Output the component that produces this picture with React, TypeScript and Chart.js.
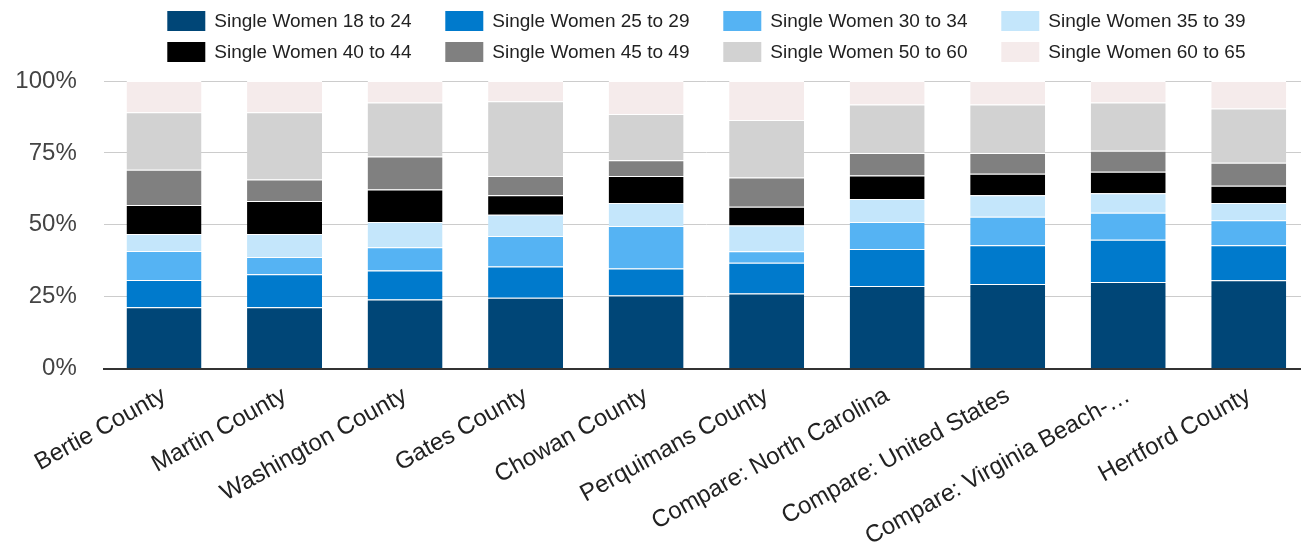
import React, { useEffect, useRef } from "react";
import { Chart, registerables } from "chart.js";

Chart.register(...registerables);

// Categories along the x axis
const categories = [
  "Bertie County",
  "Martin County",
  "Washington County",
  "Gates County",
  "Chowan County",
  "Perquimans County",
  "Compare: North Carolina",
  "Compare: United States",
  "Compare: Virginia Beach-…",
  "Hertford County",
];

// Share of single women by age band (percent of each place)
const women18to24 = [21.3, 21.3, 24.0, 24.6, 25.4, 26.1, 28.7, 29.4, 30.1, 30.7];
const women25to29 = [9.5, 11.5, 10.1, 10.9, 9.4, 10.7, 12.9, 13.5, 14.7, 12.2];
const women30to34 = [10.1, 6.0, 8.1, 10.6, 14.8, 4.0, 9.4, 9.9, 9.4, 8.7];
const women35to39 = [5.9, 8.0, 8.8, 7.4, 8.0, 8.9, 8.0, 7.5, 6.8, 6.0];
const women40to44 = [10.1, 11.5, 11.3, 6.8, 9.4, 6.6, 8.1, 7.4, 7.4, 6.0];
const women45to49 = [12.2, 7.4, 11.4, 6.7, 5.4, 10.1, 7.9, 7.3, 7.3, 8.0];
const women50to60 = [20.0, 23.4, 18.8, 26.0, 16.1, 20.0, 16.8, 16.8, 16.8, 18.8];
const women60to65 = [10.9, 10.9, 7.5, 7.0, 11.5, 13.6, 8.2, 8.2, 7.5, 9.6];

// Y axis tick values
const yTicks = [0, 25, 50, 75, 100];

const seriesNames = [
  "Single Women 18 to 24",
  "Single Women 25 to 29",
  "Single Women 30 to 34",
  "Single Women 35 to 39",
  "Single Women 40 to 44",
  "Single Women 45 to 49",
  "Single Women 50 to 60",
  "Single Women 60 to 65",
];
const seriesValues = [
  women18to24,
  women25to29,
  women30to34,
  women35to39,
  women40to44,
  women45to49,
  women50to60,
  women60to65,
];
const seriesColors = [
  "#004677",
  "#007ACC",
  "#55B3F3",
  "#C4E6FB",
  "#000000",
  "#808080",
  "#D2D2D2",
  "#F5EBEB",
];

const FONT = '"Liberation Sans", Arial, Helvetica, sans-serif';

// Legend laid out as a fixed four-column grid above the plot
const gridLegend = {
  id: "gridLegend",
  afterDraw(chart: any) {
    const { ctx, chartArea } = chart;
    const cols = 4;
    const colW = 278;
    const boxW = 38;
    const boxH = 20;
    const gap = 9;
    const rowH = 31;
    const top = 11;
    ctx.save();
    ctx.font = `19px ${FONT}`;
    ctx.textAlign = "left";
    ctx.textBaseline = "middle";
    const items = chart.data.datasets;
    const textW = Math.max(...items.map((d: any) => ctx.measureText(d.label).width));
    const rowW = (cols - 1) * colW + boxW + gap + textW;
    const x0 = (chartArea.left + chartArea.right) / 2 - rowW / 2;
    items.forEach((ds: any, i: number) => {
      const c = i % cols;
      const r = Math.floor(i / cols);
      const x = x0 + c * colW;
      const y = top + r * rowH;
      ctx.fillStyle = ds.backgroundColor;
      ctx.fillRect(x, y, boxW, boxH);
      ctx.fillStyle = "#222222";
      ctx.fillText(ds.label, x + boxW + gap, y + boxH / 2 + 1);
    });
    ctx.restore();
  },
};

export default function App() {
  const canvasRef = useRef<HTMLCanvasElement | null>(null);

  useEffect(() => {
    document.body.style.margin = "0";
    document.body.style.overflow = "hidden";
    const canvas = canvasRef.current;
    if (!canvas) return;

    const chart = new Chart(canvas, {
      type: "bar",
      data: {
        labels: categories,
        datasets: seriesNames.map((name, i) => ({
          label: name,
          data: seriesValues[i],
          backgroundColor: seriesColors[i],
          borderColor: "#ffffff",
          borderWidth: { top: 1, bottom: 0, left: 0, right: 0 },
          borderSkipped: false,
          categoryPercentage: 1,
          barPercentage: 0.622,
        })),
      },
      options: {
        responsive: false,
        animation: false,
        devicePixelRatio: 1,
        events: [],
        layout: { padding: { top: 81, left: 0, right: 0, bottom: 0 } },
        plugins: {
          legend: { display: false },
          tooltip: { enabled: false },
          title: { display: false },
        },
        scales: {
          x: {
            stacked: true,
            grid: { display: false },
            border: { display: true, color: "#333333", width: 2 },
            ticks: {
              autoSkip: false,
              minRotation: 29,
              maxRotation: 29,
              padding: 5,
              color: "#222222",
              font: { family: FONT, size: 24 },
            },
            afterFit(scale: any) {
              scale.height = 183.5;
            },
          },
          y: {
            stacked: true,
            min: 0,
            max: 100,
            afterBuildTicks(scale: any) {
              scale.ticks = yTicks.map((v) => ({ value: v }));
            },
            grid: {
              color: (c: any) => (c.tick && c.tick.value === 0 ? "rgba(0,0,0,0)" : "#CCCCCC"),
              lineWidth: 1,
              drawTicks: false,
            },
            border: { display: false },
            ticks: {
              padding: 27,
              color: "#444444",
              font: { family: FONT, size: 24 },
              callback: (v: any) => `${v}%`,
            },
            afterFit(scale: any) {
              scale.width = 103.75;
            },
          },
        },
      },
      plugins: [gridLegend],
    });

    return () => chart.destroy();
  }, []);

  return (
    <div style={{ position: "fixed", left: 0, top: 0, width: 1309, height: 552, background: "#fff" }}>
      <canvas ref={canvasRef} width={1309} height={552} style={{ display: "block" }} />
    </div>
  );
}
